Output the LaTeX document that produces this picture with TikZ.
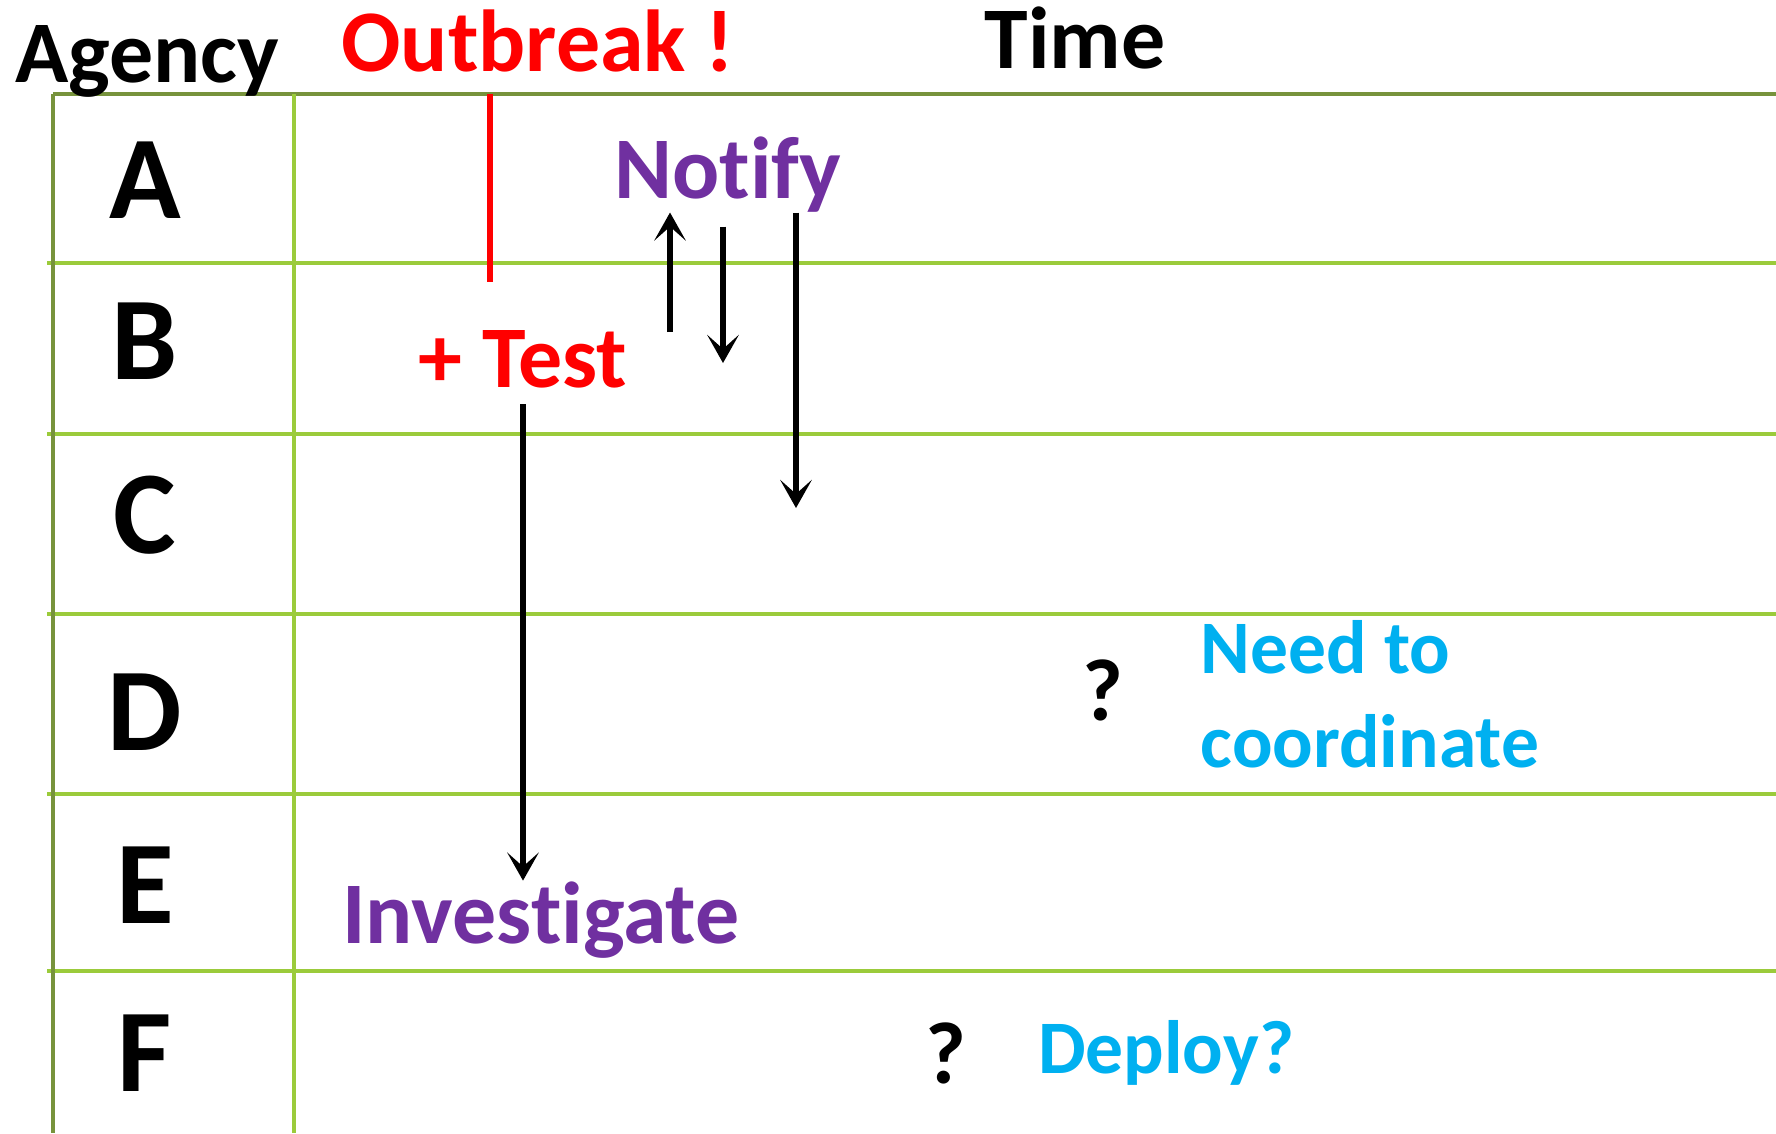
\documentclass[tikz,border=0pt]{standalone}
\usepackage{fontspec}
\setmainfont{Carlito}[Ligatures=NoCommon]
\usetikzlibrary{arrows.meta}

\definecolor{gridgreen}{RGB}{155,203,59}
\definecolor{gridolive}{RGB}{119,147,60}
\definecolor{actpurple}{RGB}{112,48,160}
\definecolor{askcyan}{RGB}{0,176,240}

\begin{document}
\begin{tikzpicture}[x=0.01cm,y=-0.01cm,
    lane/.style={gridgreen,line width=1.1pt},
    frame/.style={gridolive,line width=1.1pt},
    txt/.style={font=\fontsize{25}{30}\selectfont\bfseries,inner sep=0pt,anchor=base},
    agency/.style={txt,font=\fontsize{33.6}{40}\selectfont\bfseries},
    act/.style={txt,text=actpurple},
    alarm/.style={txt,text=red},
    query/.style={txt,text=askcyan,font=\fontsize{21.5}{26.5}\selectfont\bfseries},
    arr/.style={-{Stealth[length=8pt,width=9pt,inset=4pt]},line width=1.8pt}]
            \useasboundingbox (0,0) rectangle (1776,1133);

            %grid
            \foreach \y in {263,434,614,794,971}
                \draw[lane] (47,\y) -- (1776,\y);
            \draw[frame] (53,94) -- (1776,94);
            \draw[frame] (53,94) -- (53,1133);
            \draw[lane] (294,94) -- (294,1133);

            %agencies
            \node[txt] (agency) at (147,82) {Agency};
            \foreach \a/\y in {A/218,B/379,C/553,D/750,E/923,F/1091}
                \node[agency] (ag\a) at (145,\y) {\a};

            \node[alarm] (outbreak) at (538,71) {Outbreak !};
            \node[txt] (time) at (1075,68) {Time};
            \coordinate (onset) at (490,94);
            \coordinate (onsetend) at (490,282);
            \draw[red,line width=1.6pt] (onset) -- (onsetend);

            \node[act] (notify) at (728,198) {Notify};
            \node[alarm] (test) at (523,387) {+ Test};
            \node[act] (invest) at (541,943) {Investigate};
            \node[txt] (qD) at (1103,720) {?};
            \node[query,anchor=base west,align=left] (coord) at (1200,767) {Need to\\coordinate};
            \node[txt] (qF) at (946,1083) {?};
            \node[query] (deploy) at (1166,1073) {Deploy?};

            %messages
            \coordinate (askB) at (670,332);
            \coordinate (tellB) at (723,363);
            \coordinate (tellC) at (796,508);
            \draw[arr] (askB) -- (askB |- notify.south);
            \draw[arr,shorten <=4pt] (tellB |- notify.south) -- (tellB);
            \draw[arr] (tellC |- notify.south) -- (tellC);
            \draw[arr,shorten <=4.5pt] (test.south) -- (test.south |- invest.north);
\end{tikzpicture}
\end{document}
